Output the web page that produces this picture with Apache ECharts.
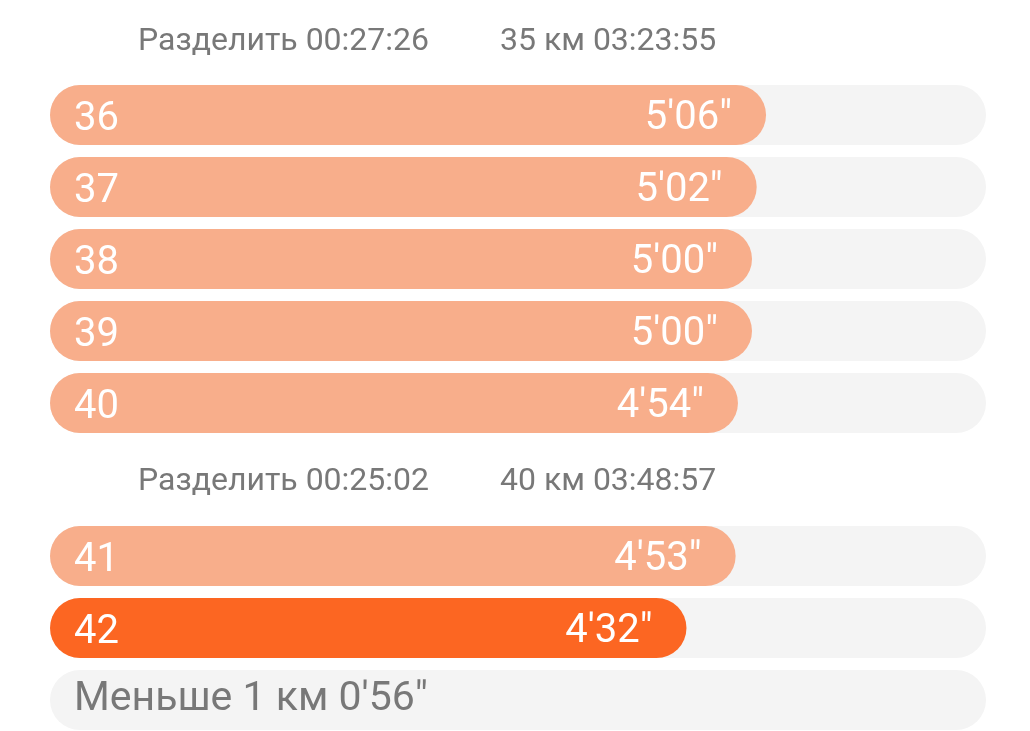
<!DOCTYPE html>
<html>
<head>
<meta charset="utf-8">
<script src="https://cdn.jsdelivr.net/npm/echarts@6/dist/echarts.min.js"></script>
<style>
  html, body { margin: 0; padding: 0; background: #fff; }
  #chart { width: 1030px; height: 731px; }
</style>
</head>
<body>
<div id="chart"></div>
<script>
// километры и темп (секунды на км)
const kmBlock1 = ['36', '37', '38', '39', '40']
const paceBlock1 = [306, 302, 300, 300, 294]
const kmBlock2 = ['41', '42', 'last']
const paceBlock2 = [293, 272, 0]
const lastRowText = "Меньше 1 км 0'56\""
const fastestKm = '42'
const splitLeft = ['Разделить 00:27:26', 'Разделить 00:25:02']
const splitRight = ['35 км 03:23:55', '40 км 03:48:57']
const paceMax = 400

const FONT = 'Roboto, "Noto Sans", sans-serif'
const LIGHT = '#f8ae8b'
const DARK = '#fc6622'
const TRACK = '#f4f4f4'
const GREY = '#787878'

const fmtPace = (s) => {
  const m = Math.floor(s / 60)
  const sec = s % 60
  return m + "'" + (sec < 10 ? '0' + sec : sec) + '"'
}

// boundaryGap false: строки стоят по краям сетки, шаг = height / (n - 1)
const makeY = (idx, cats) => ({
  type: 'category',
  gridIndex: idx,
  inverse: true,
  boundaryGap: false,
  z: 10,
  data: cats.map(c => c === 'last'
    ? { value: c, textStyle: { color: GREY, fontSize: 41, verticalAlign: 'middle', lineHeight: 50 } }
    : c),
  axisLine: { show: false },
  axisTick: { show: false },
  splitLine: { show: false },
  axisLabel: {
    inside: true,
    margin: 24,
    color: '#fff',
    fontSize: 40,
    fontFamily: FONT,
    // цифры чуть ниже центра строки
    verticalAlign: 'top',
    lineHeight: 10,
    formatter: v => v === 'last' ? lastRowText : v
  }
})

const makeX = (idx) => ({
  type: 'value',
  gridIndex: idx,
  min: 0,
  max: paceMax,
  show: false
})

const makeSeries = (idx, cats, vals) => ({
  type: 'bar',
  xAxisIndex: idx,
  yAxisIndex: idx,
  barWidth: 60,
  clip: false,
  showBackground: true,
  backgroundStyle: { color: TRACK, borderRadius: 30 },
  data: vals.map((v, i) => ({
    value: v,
    itemStyle: { color: cats[i] === fastestKm ? DARK : LIGHT, borderRadius: 30 }
  })),
  label: {
    show: true,
    position: 'insideRight',
    distance: 34,
    offset: [0, 4],
    color: '#fff',
    fontSize: 40,
    fontFamily: FONT,
    formatter: p => p.value > 0 ? fmtPace(p.value) : ''
  },
  silent: true
})

const headerText = (x, y, text) => ({
  type: 'text',
  left: x,
  top: y,
  style: { text: text, fill: GREY, fontSize: 32, fontFamily: FONT }
})

const chart = echarts.init(document.getElementById('chart'))
chart.setOption({
  animation: false,
  grid: [
    { left: 50, right: 44, top: 115, height: 288 },
    { left: 50, right: 44, top: 556, height: 144 }
  ],
  xAxis: [makeX(0), makeX(1)],
  yAxis: [makeY(0, kmBlock1), makeY(1, kmBlock2)],
  series: [
    makeSeries(0, kmBlock1, paceBlock1),
    makeSeries(1, kmBlock2, paceBlock2)
  ],
  graphic: [
    headerText(138, 26, splitLeft[0]),
    headerText(500, 26, splitRight[0]),
    headerText(138, 466, splitLeft[1]),
    headerText(500, 466, splitRight[1])
  ]
})
</script>
</body>
</html>
